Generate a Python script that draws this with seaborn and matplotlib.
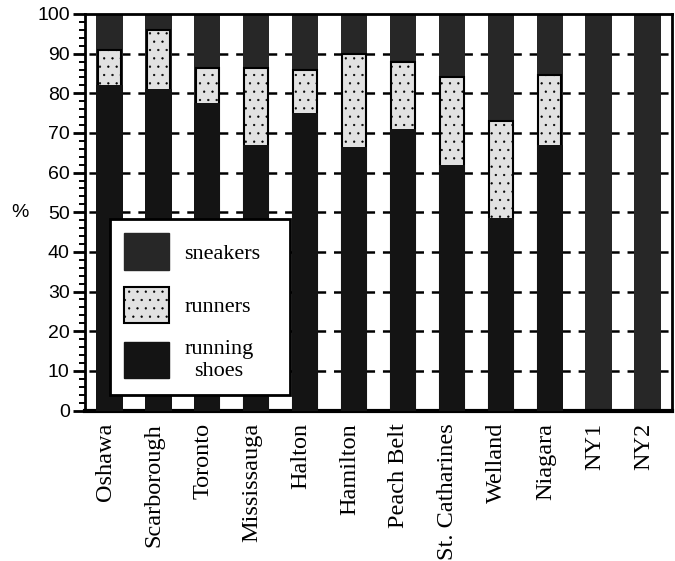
import numpy as np
import pandas as pd
import matplotlib
matplotlib.use("Agg")
import matplotlib.pyplot as plt
import matplotlib.transforms as mtransforms
import seaborn as sns
from matplotlib.patches import Patch
from matplotlib.ticker import MultipleLocator

regions = ["Oshawa", "Scarborough", "Toronto", "Mississauga", "Halton", "Hamilton",
           "Peach Belt", "St. Catharines", "Welland", "Niagara", "NY1", "NY2"]
running_shoes = [82, 81, 77.5, 67, 75, 66.5, 71, 62, 48.5, 67, 0, 0]
runners = [9, 15, 9, 19.5, 11, 23.5, 17, 22, 24.5, 17.5, 0, 0]
sneakers = [9, 4, 13.5, 13.5, 14, 10, 12, 16, 27, 15.5, 100, 100]

df = pd.DataFrame({"region": regions, "running shoes": running_shoes,
                   "runners": runners, "sneakers": sneakers})
# stacked by overlaying cumulative heights
df["top_runners"] = df["running shoes"] + df["runners"]
df["top_sneakers"] = df["top_runners"] + df["sneakers"]

sns.set_theme(style="white")
plt.rcParams["lines.scale_dashes"] = False
plt.rcParams["hatch.linewidth"] = 0.4
plt.rcParams["text.color"] = "black"

c_sneak = "#272727"
c_run = "#e2e2e2"
c_shoes = "#141414"

fig = plt.figure(figsize=(6.75, 5.61), dpi=100)
ax = fig.add_axes([85 / 675, 1 - 410.5 / 561, 587 / 675, 396.5 / 561])

bw = 0.54
sns.barplot(data=df, x="region", y="top_sneakers", order=regions, color=c_sneak,
            saturation=1, width=bw, linewidth=0, ax=ax, zorder=2)
n0 = len(ax.patches)
sns.barplot(data=df, x="region", y="top_runners", order=regions, color=c_run,
            saturation=1, width=bw - 0.06, edgecolor="black", linewidth=1.5,
            ax=ax, zorder=3)
for p in ax.patches[n0:]:
    p.set_hatch("..")
sns.barplot(data=df, x="region", y="running shoes", order=regions, color=c_shoes,
            saturation=1, width=bw, linewidth=0, ax=ax, zorder=4)

# dashed grid that only shows as notched dashes in the white gaps
period = 587 / 100 * 72 / len(regions)
gap = period * (1 - bw)
off = 0.35 * gap
on = period - off
for v in range(10, 100, 10):
    ax.axhline(v, color="black", lw=1.8, linestyle=(on + off / 2, (on, off)), zorder=1)

ax.set_xlim(-0.5, len(regions) - 0.5)
ax.set_ylim(0, 100)
ax.set_yticks(range(0, 101, 10))
ax.yaxis.set_minor_locator(MultipleLocator(2))
ax.tick_params(axis="y", which="major", left=True, direction="out", length=9, width=2,
               pad=2, labelsize=14, color="black", labelcolor="black")
ax.tick_params(axis="y", which="minor", left=True, direction="out", length=4.5,
               width=1.4, color="black")
for lab in ax.get_yticklabels():
    lab.set_family("Liberation Sans")

ax.set_xticks(range(len(regions)))
ax.set_xticklabels(regions, rotation=90, fontsize=17.5, family="Liberation Serif",
                   va="top", color="black")
ax.tick_params(axis="x", bottom=False, pad=3)
shift = mtransforms.ScaledTranslation(-4 / 100, 0, fig.dpi_scale_trans)
for lab in ax.get_xticklabels():
    lab.set_transform(lab.get_transform() + shift)

ax.set_xlabel("")
ax.set_ylabel("%", rotation=0, fontsize=14, family="Liberation Sans", color="black",
              ha="center", va="center")
ax.yaxis.set_label_coords(-0.111, 0.5)

for side, sp in ax.spines.items():
    sp.set_color("black")
    sp.set_linewidth(2)
ax.spines["bottom"].set_linewidth(3)

handles = [Patch(facecolor=c_sneak, edgecolor=c_sneak),
           Patch(facecolor=c_run, edgecolor="black", linewidth=1.5, hatch=".."),
           Patch(facecolor=c_shoes, edgecolor=c_shoes)]
labels = ["sneakers", "runners", "running\nshoes"]
leg = ax.legend(handles, labels, loc="lower left",
                bbox_to_anchor=(0.0426, 0.039, 0.307, 0.45), mode="expand",
                borderaxespad=0,
                prop={"family": "Liberation Serif", "size": 16},
                frameon=True, fancybox=False, framealpha=1, facecolor="white",
                edgecolor="black", borderpad=0.65, handlelength=2.0, handleheight=2.15,
                handletextpad=0.7, labelspacing=0.75)
leg.get_frame().set_linewidth(2)
leg.set_zorder(6)
for t in leg.get_texts():
    t.set_multialignment("center")
    t.set_color("black")

fig.savefig("out.png", dpi=100)
